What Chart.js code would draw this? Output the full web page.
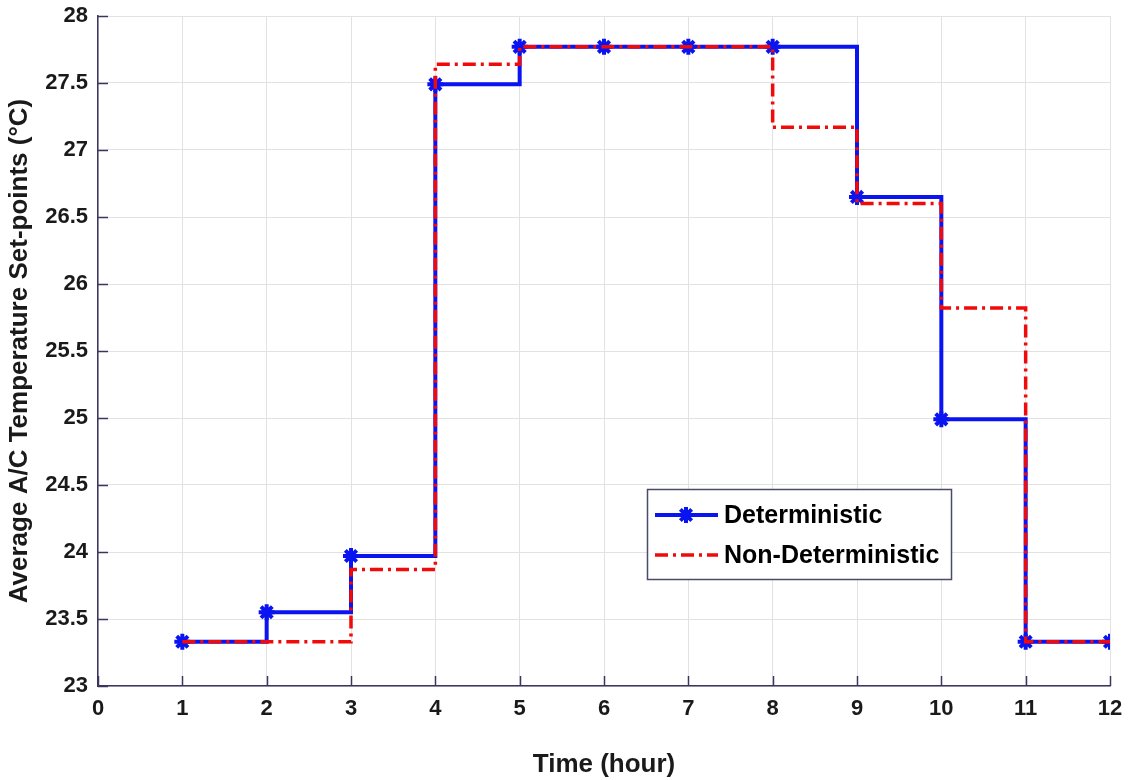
<!DOCTYPE html>
<html>
<head>
<meta charset="utf-8">
<script src="https://cdn.jsdelivr.net/npm/chart.js@4"></script>
<style>
html,body{margin:0;padding:0;background:#fff;}
#wrap{width:1129px;height:780px;position:relative;}
</style>
</head>
<body>
<div id="wrap"><canvas id="c" width="1129" height="780"></canvas></div>
<script>
const hours = [1, 2, 3, 4, 5, 6, 7, 8, 9, 10, 11, 12];
const deterministic = [23.33, 23.55, 23.97, 27.49, 27.77, 27.77, 27.77, 27.77, 26.65, 24.99, 23.33, 23.33];
const nonDeterministic = [23.33, 23.33, 23.87, 27.64, 27.77, 27.77, 27.77, 27.17, 26.60, 25.82, 23.33, 23.33];
const seriesNames = ['Deterministic', 'Non-Deterministic'];
const xTitle = 'Time (hour)';
const yTitle = 'Average A/C Temperature Set-points (\u00B0C)';

const FONT = '"Liberation Sans", Arial, Helvetica, sans-serif';
const AXIS_COLOR = '#3b3660';
const BLUE = '#0a14f0';
const RED = '#f00a0a';
const RED_DASH = [13, 5, 3, 5];

const detPts = hours.map((h, i) => ({x: h, y: deterministic[i]}));
const nonPts = hours.map((h, i) => ({x: h, y: nonDeterministic[i]}));

const innerTicks = {
  id: 'innerTicks',
  beforeDatasetsDraw(chart) {
    const ctx = chart.ctx;
    const xs = chart.scales.x, ys = chart.scales.y;
    const ca = chart.chartArea;
    ctx.save();
    ctx.strokeStyle = AXIS_COLOR;
    ctx.lineWidth = 1.5;
    ctx.beginPath();
    xs.ticks.forEach(t => {
      const px = Math.round(xs.getPixelForValue(t.value)) + 0.5;
      ctx.moveTo(px, ca.bottom);
      ctx.lineTo(px, ca.bottom - 10);
    });
    ys.ticks.forEach(t => {
      const py = Math.round(ys.getPixelForValue(t.value)) + 0.5;
      ctx.moveTo(ca.left, py);
      ctx.lineTo(ca.left + 10, py);
    });
    ctx.stroke();
    ctx.restore();
  }
};

const boxLegend = {
  id: 'boxLegend',
  afterDraw(chart) {
    const ctx = chart.ctx;
    const x0 = 647, y0 = 489, w = 304, h = 90;
    ctx.save();
    ctx.fillStyle = '#ffffff';
    ctx.fillRect(x0, y0, w, h);
    ctx.strokeStyle = '#4a4a6a';
    ctx.lineWidth = 1.5;
    ctx.strokeRect(x0 + 0.5, y0 + 0.5, w, h);
    const ds = chart.data.datasets;
    const blue = ds.find(d => d.label === seriesNames[0]);
    const red = ds.find(d => d.label === seriesNames[1]);
    ctx.strokeStyle = blue.borderColor;
    ctx.lineWidth = blue.borderWidth;
    ctx.beginPath(); ctx.moveTo(655, 515); ctx.lineTo(718, 515); ctx.stroke();
    ctx.fillStyle = blue.borderColor;
    Chart.helpers.drawPoint(ctx, {pointStyle: 'star', radius: blue.pointRadius, borderWidth: blue.pointBorderWidth, rotation: 0}, 686, 515);
    ctx.strokeStyle = red.borderColor;
    ctx.lineWidth = red.borderWidth;
    ctx.setLineDash(RED_DASH);
    ctx.beginPath(); ctx.moveTo(655, 555); ctx.lineTo(718, 555); ctx.stroke();
    ctx.setLineDash([]);
    ctx.fillStyle = '#000';
    ctx.font = 'bold 25px ' + FONT;
    ctx.textBaseline = 'middle';
    ctx.textAlign = 'left';
    ctx.fillText(seriesNames[0], 724, 516);
    ctx.fillText(seriesNames[1], 724, 556);
    ctx.restore();
  }
};

new Chart(document.getElementById('c'), {
  type: 'line',
  data: {
    datasets: [
      {
        label: seriesNames[1],
        data: nonPts,
        stepped: 'before',
        borderColor: RED,
        borderWidth: 3.5,
        borderDash: RED_DASH,
        pointRadius: 0,
        fill: false,
        tension: 0
      },
      {
        label: seriesNames[0],
        data: detPts,
        stepped: 'before',
        borderColor: BLUE,
        borderWidth: 4,
        pointStyle: 'star',
        pointRadius: 8,
        pointBorderWidth: 4,
        pointBorderColor: BLUE,
        pointBackgroundColor: BLUE,
        fill: false,
        tension: 0
      }
    ]
  },
  options: {
    responsive: false,
    animation: false,
    events: [],
    layout: {autoPadding: false, padding: {top: 16, right: 19, left: 0, bottom: 0}},
    plugins: {legend: {display: false}, tooltip: {enabled: false}},
    scales: {
      x: {
        type: 'linear',
        min: 0, max: 12,
        afterFit(s) { s.height = 94; s.paddingLeft = 0; s.paddingRight = 0; },
        ticks: {stepSize: 1, color: '#1a1a1a', padding: 10, font: {family: FONT, size: 22, weight: 'bold'}},
        grid: {color: '#e2e2e2', lineWidth: 1, drawTicks: false},
        border: {color: AXIS_COLOR, width: 1.5},
        title: {display: true, text: xTitle, color: '#1a1a1a', padding: {top: 0, bottom: 0}, font: {family: FONT, size: 26, weight: 'bold'}}
      },
      y: {
        type: 'linear',
        min: 23, max: 28,
        afterFit(s) { s.width = 98; s.paddingTop = 0; s.paddingBottom = 0; },
        ticks: {stepSize: 0.5, color: '#1a1a1a', padding: 10, font: {family: FONT, size: 22, weight: 'bold'},
          callback: v => String(Math.round(v * 10) / 10)},
        grid: {color: '#e2e2e2', lineWidth: 1, drawTicks: false},
        border: {color: AXIS_COLOR, width: 1.5},
        title: {display: true, text: yTitle, color: '#1a1a1a', padding: {top: 4, bottom: 0}, font: {family: FONT, size: 26, weight: 'bold'}}
      }
    }
  },
  plugins: [innerTicks, boxLegend]
});
</script>
</body>
</html>
